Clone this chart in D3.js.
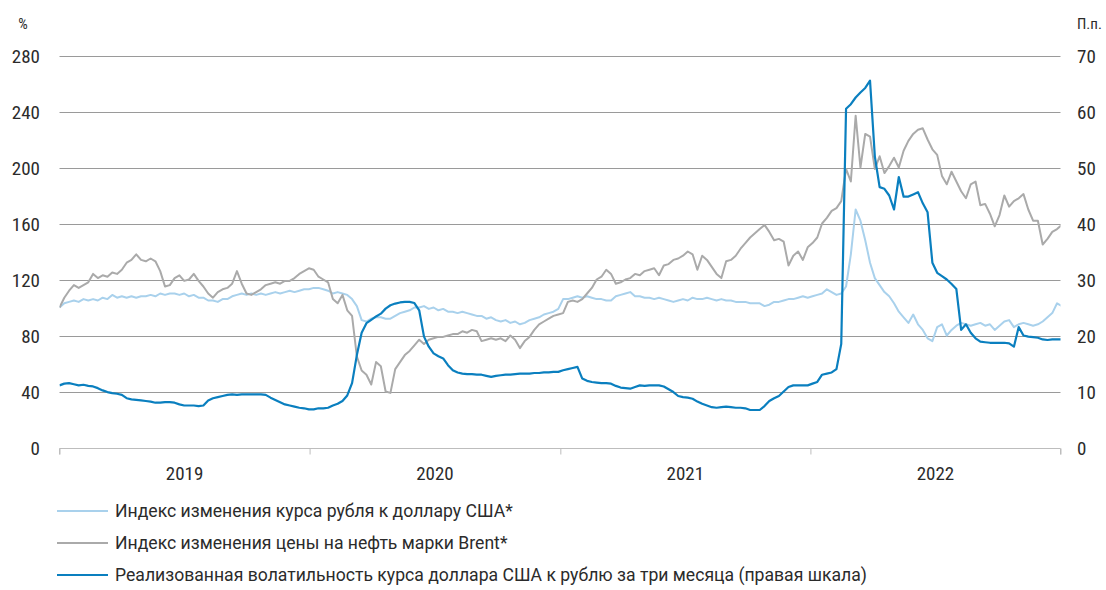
<!DOCTYPE html>
<html><head><meta charset="utf-8">
<script src="https://cdn.jsdelivr.net/npm/d3@7"></script>
<style>
html,body{margin:0;padding:0;background:#fff;}
svg text{font-family:"Liberation Sans Narrow","Roboto Condensed",Roboto,sans-serif;fill:#2b2b2b;}
svg text.legend{font-family:Roboto,"Noto Sans",sans-serif;}
</style></head>
<body><svg id="chart" width="1106" height="590"></svg>
<script>
const startDate = "2019-01-01";
const yearLabels = ["2019","2020","2021","2022"];
const leftTicks = [0,40,80,120,160,200,240,280];
const rightTicks = [0,10,20,30,40,50,60,70];
const seriesNames = [
  "Индекс изменения курса рубля к доллару США*",
  "Индекс изменения цены на нефть марки Brent*",
  "Реализованная волатильность курса доллара США к рублю за три месяца (правая шкала)"
];
// weekly values, left axis (%)
const rubIndex = [100,103,104,105,104,106,105,106,105,107,106,109,107,108,107,108,107,108,108,109,
108,110,109,110,110,109,110,108,109,107,107,105,105,104,106,106,108,109,110,109,
110,109,110,109,110,111,110,111,112,111,112,113,113,114,114,113,112,110,111,110,
109,106,101,91,90,92,93,93,92,92,94,96,97,98,100,100,101,99,100,98,
99,97,97,96,97,96,95,94,94,92,93,91,90,91,89,90,88,89,91,92,
93,95,96,97,99,106,106,107,108,107,108,107,106,106,105,105,108,109,110,111,
108,108,107,107,106,107,106,105,104,105,106,105,107,106,106,107,106,105,106,105,
105,104,104,104,103,103,103,101,102,104,104,105,106,106,107,108,107,108,109,110,
113,111,109,110,115,138,170,162,148,132,121,116,111,108,103,97,93,89,95,88,
84,78,76,86,88,80,84,87,89,88,87,88,89,87,88,84,87,90,91,86,
88,89,88,87,88,90,93,96,103,101];
const brentIndex = [100,107,112,116,114,116,118,124,121,123,122,125,124,127,132,134,138,134,133,135,
133,126,115,116,121,123,119,120,124,119,115,110,107,111,113,114,117,126,117,110,
109,111,113,116,117,118,117,119,119,121,124,126,128,127,122,120,118,106,103,109,
98,94,65,55,52,45,61,58,40,39,56,61,66,69,73,77,74,77,78,79,
79,80,81,81,83,82,84,83,76,77,78,77,78,76,80,77,71,76,79,84,
88,90,92,94,95,96,104,105,104,106,110,114,120,122,127,124,117,118,120,121,
124,123,126,127,128,123,130,131,134,135,137,140,138,127,137,134,129,124,121,133,
134,137,142,146,150,153,156,159,154,148,149,147,130,137,140,134,143,146,150,160,
164,169,171,176,199,190,237,200,224,222,199,208,196,201,207,200,212,219,224,227,
228,220,213,209,194,188,197,190,183,178,188,190,173,174,167,158,166,180,172,176,
178,181,170,162,162,145,149,154,156,159];
// weekly values, right axis (percentage points)
const rubVolatility = [11.1,11.4,11.5,11.3,11.1,11.2,11.0,10.9,10.6,10.2,9.9,9.7,9.6,9.4,8.8,8.6,8.5,8.4,8.3,8.2,
8.0,8.0,8.1,8.1,8.0,7.7,7.5,7.5,7.5,7.4,7.5,8.4,8.8,9.0,9.2,9.4,9.5,9.4,9.5,9.5,
9.5,9.5,9.5,9.4,8.9,8.5,8.1,7.7,7.5,7.3,7.1,7.0,6.8,6.8,7.0,7.0,7.1,7.5,7.8,8.3,
9.3,11.5,16.5,20.5,22.2,22.8,23.4,23.9,24.8,25.4,25.7,25.9,26.0,26.0,25.8,24.5,19.8,18.0,16.8,16.3,
15.9,14.7,13.8,13.4,13.2,13.1,13.1,13.0,13.0,12.8,12.6,12.8,12.9,13.0,13.0,13.1,13.2,13.2,13.2,13.3,
13.3,13.4,13.4,13.5,13.5,13.8,14.0,14.2,14.4,12.3,11.9,11.7,11.6,11.5,11.5,11.4,11.0,10.7,10.6,10.5,
10.8,11.1,11.0,11.1,11.1,11.1,10.9,10.4,9.9,9.2,9.0,8.9,8.7,8.2,7.8,7.5,7.2,7.1,7.2,7.3,
7.2,7.1,7.1,7.0,6.7,6.7,6.7,7.4,8.3,8.8,9.2,10.0,10.8,11.1,11.1,11.1,11.1,11.4,11.7,13.0,
13.2,13.4,14.0,18.5,60.5,61.3,62.5,63.4,64.2,65.5,52.0,46.5,46.2,45.0,42.5,48.3,44.8,44.8,45.2,45.6,
43.6,42.0,33.0,31.2,30.6,30.0,29.2,28.3,21.0,22.0,20.5,19.5,18.9,18.8,18.7,18.7,18.7,18.7,18.6,18.0,
21.5,20.0,19.8,19.7,19.6,19.3,19.2,19.3,19.3,19.3];

const colors = ["#a9d1ec","#aaaaaa","#0a7fbf"];

const svg = d3.select("#chart");
const plot = {left:59.5, right:1060.5, top:55.5, bottom:447.5};

const t0 = new Date(startDate + "T00:00:00Z");
const dates = rubIndex.map((_, i) => d3.utcDay.offset(t0, 7 * i));

const x = d3.scaleUtc()
  .domain([new Date("2019-01-01T00:00:00Z"), new Date("2023-01-01T00:00:00Z")])
  .range([plot.left, plot.right]);
const yL = d3.scaleLinear().domain([0, 280]).range([plot.bottom, plot.top]);
const yR = d3.scaleLinear().domain([0, 70]).range([plot.bottom, plot.top]);

// gridlines
svg.append("g").selectAll("line").data(leftTicks.filter(d => d > 0)).join("line")
  .attr("x1", plot.left).attr("x2", plot.right)
  .attr("y1", d => Math.round(yL(d)) + 0.5).attr("y2", d => Math.round(yL(d)) + 0.5)
  .attr("stroke", "#9a9a9a").attr("stroke-width", 1);

// bottom axis
const xAxis = d3.axisBottom(x).ticks(d3.utcYear.every(1)).tickSize(6).tickFormat("");
const gx = svg.append("g").attr("transform", `translate(0,${Math.round(plot.bottom) + 0.5})`).call(xAxis);
gx.select(".domain").attr("stroke", "#bdbdbd").attr("d", `M${plot.left},6V0H${plot.right}V6`);
gx.selectAll(".tick line").attr("stroke", "#bdbdbd");

svg.append("g").selectAll("text").data(yearLabels).join("text")
  .attr("x", d => (x(new Date(d + "-01-01T00:00:00Z")) + x(new Date((+d + 1) + "-01-01T00:00:00Z"))) / 2)
  .attr("y", 480).attr("text-anchor", "middle").attr("font-size", 19).text(d => d);

// left axis labels
const gl = svg.append("g").attr("transform", `translate(40,0)`)
  .call(d3.axisLeft(yL).tickValues(leftTicks).tickSize(0).tickPadding(0));
gl.select(".domain").remove();
gl.selectAll("text").attr("font-size", 19).attr("dy", "0.35em");
svg.append("text").attr("x", 23).attr("y", 29).attr("text-anchor", "middle").attr("font-size", 15).text("%");

// right axis labels
const gr = svg.append("g").attr("transform", `translate(1077,0)`)
  .call(d3.axisRight(yR).tickValues(rightTicks).tickSize(0).tickPadding(0));
gr.select(".domain").remove();
gr.selectAll("text").attr("font-size", 19).attr("dy", "0.35em");
svg.append("text").attr("x", 1077).attr("y", 29).attr("font-size", 15).text("П.п.");
svg.selectAll(".tick text").attr("fill", "#2b2b2b").attr("font-family", null);

// clip
svg.append("clipPath").attr("id", "clip").append("rect")
  .attr("x", plot.left).attr("y", 0).attr("width", plot.right - plot.left).attr("height", plot.bottom + 2);

const lineL = d3.line().x((d, i) => x(dates[i])).y(d => yL(d));
const lineR = d3.line().x((d, i) => x(dates[i])).y(d => yR(d));
const g = svg.append("g").attr("clip-path", "url(#clip)");
g.append("path").datum(rubIndex).attr("d", lineL).attr("fill", "none").attr("stroke", colors[0]).attr("stroke-width", 2).attr("stroke-linejoin", "round");
g.append("path").datum(brentIndex).attr("d", lineL).attr("fill", "none").attr("stroke", colors[1]).attr("stroke-width", 2).attr("stroke-linejoin", "round");
g.append("path").datum(rubVolatility).attr("d", lineR).attr("fill", "none").attr("stroke", colors[2]).attr("stroke-width", 2.2).attr("stroke-linejoin", "round");

// legend
const leg = svg.append("g").selectAll("g").data(seriesNames).join("g")
  .attr("transform", (d, i) => `translate(0,${511 + i * 32})`);
leg.append("line").attr("x1", 57).attr("x2", 108).attr("stroke", (d, i) => colors[i]).attr("stroke-width", 2.2);
leg.append("text").attr("class", "legend").attr("x", 115).attr("dy", "0.35em").attr("font-size", 17.6).text(d => d);
</script></body></html>
